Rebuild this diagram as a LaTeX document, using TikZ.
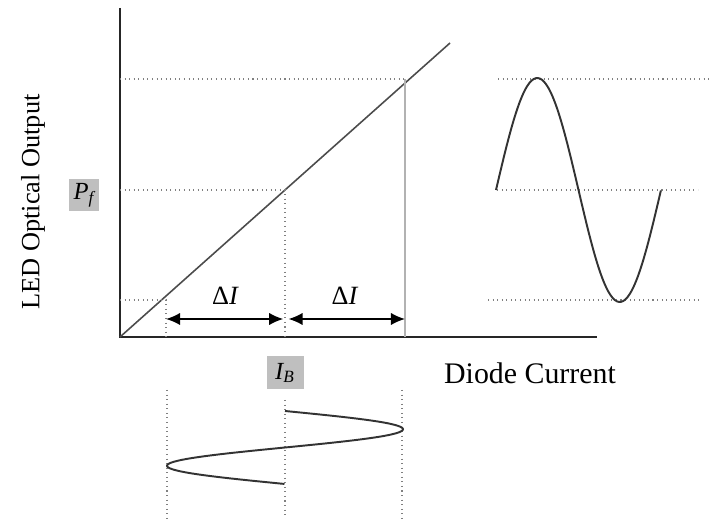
\documentclass[tikz,border=0pt]{standalone}
\usepackage{fontspec}
\setmainfont{Liberation Serif}
\usetikzlibrary{arrows.meta,positioning,calc}

\begin{document}
\begin{tikzpicture}[
    x=0.02cm, y=-0.02cm, % one unit = one pixel of the sketch
    axis/.style={line width=1.1pt, black!85},
    guide/.style={dotted, gray, line width=0.6pt},
    wave/.style={line width=1.1pt, black!80, smooth},
    tag/.style={fill=gray!50, inner sep=2.5pt, font=\fontsize{14}{16}\selectfont\itshape},
    lbl/.style={font=\fontsize{15}{18}\selectfont},
    dimarrow/.style={{Latex[length=8pt,width=7pt]}-{Latex[length=8pt,width=7pt]}, line width=0.9pt}
]
    \useasboundingbox (0,0) rectangle (720,519);

    % Key points
    \coordinate (O) at (120,337);
    \coordinate (ytop) at (120,8);
    \coordinate (xend) at (597,337);
    \coordinate (lineend) at (450,43);
    \coordinate (pmax) at (405,79);
    \coordinate (pbias) at (285,190);
    \coordinate (pmin) at (166,300);

    % Axes and characteristic
    \draw[axis] (ytop) -- (O) -- (xend);
    \draw[line width=0.9pt, black!70] (O) -- (lineend);

    % Guide lines
    \draw[guide] (pmax -| O) -- (pmax);
    \draw[guide] (pbias -| O) -- (pbias) -- (pbias |- O);
    \draw[guide] (pmin -| O) -- (pmin) -- (pmin |- O);
    \draw[gray!60, line width=0.6pt] (pmax) -- (pmax |- O);
    \draw[guide] (498,79) -- (709,79);
    \draw[guide] (497,190) -- (698,190);
    \draw[guide] (488,300) -- (702,300);
    \draw[guide] (167,390) -- (167,519);
    \draw[guide] (285,400) -- (285,519);
    \draw[guide] (402,390) -- (402,519);

    % Nodes
    \node[lbl, rotate=90] (yaxis) at (33,202) {LED Optical Output};
    \node[tag, minimum width=0.6cm, minimum height=0.52cm] (Pf) at (84,195) {P\textsubscript{f}};
    \node[tag, minimum width=0.74cm, minimum height=0.66cm] (IB) at (285,373) {I\textsubscript{B}};
    \node[lbl, font=\fontsize{17}{20}\selectfont] (xaxis) at (530,373) {Diode Current};
    \coordinate (d1) at (166,319);
    \coordinate (d2) at (285,319);
    \coordinate (d3) at (405,319);
    \node[lbl] (dI1) at ($(d1)!0.5!(d2)+(0,-23)$) {Δ\textit{I}};
    \node[lbl] (dI2) at ($(d2)!0.5!(d3)+(0,-23)$) {Δ\textit{I}};

    % Connections
    \draw[dimarrow] (d1) -- ([xshift=-1]d2);
    \draw[dimarrow] ([xshift=2]d2) -- (d3);

    % Waves
    \draw[wave] plot[domain=0:1, samples=80] ({496+165*\x}, {190-112*sin(360*\x)});
    \draw[wave] plot[domain=0:1, samples=80] ({285+118*sin(360*\x)}, {411+73*\x});
\end{tikzpicture}
\end{document}
